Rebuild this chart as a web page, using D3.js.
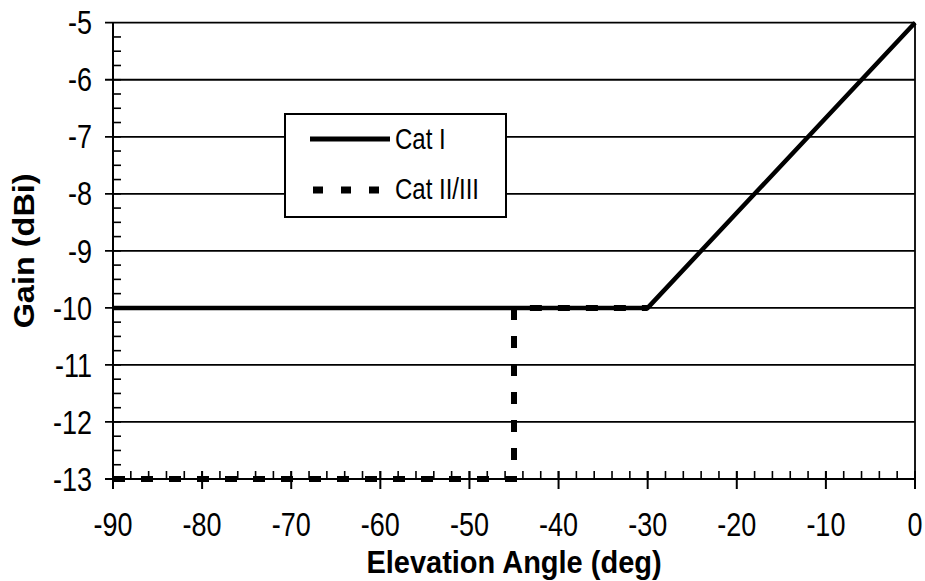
<!DOCTYPE html>
<html><head><meta charset="utf-8">
<script src="https://cdn.jsdelivr.net/npm/d3@7"></script>
<style>body{margin:0;background:#fff}text{font-family:"Liberation Sans",Arial,sans-serif;fill:#000}</style>
</head><body>
<svg id="c" width="925" height="581"></svg>
<script>
const catIAngle = [-90, -30, 0];
const catIGain = [-10, -10, -5];
const catIIAngle = [-90, -45, -45, -30];
const catIIGain = [-13, -13, -10, -10];
const xTicks = [-90, -80, -70, -60, -50, -40, -30, -20, -10, 0];
const yTicks = [-5, -6, -7, -8, -9, -10, -11, -12, -13];
const seriesNames = ["Cat I", "Cat II/III"];

const svg = d3.select("#c");
const L = 113, R = 915, T = 22.7, B = 479;
const SY = 1.2;
const x = d3.scaleLinear().domain([-90, 0]).range([L, R]);
const y = d3.scaleLinear().domain([-13, -5]).range([B, T]);

// gridlines
svg.append("g").selectAll("line").data(yTicks).join("line")
  .attr("x1", 105).attr("x2", R).attr("y1", d => y(d)).attr("y2", d => y(d))
  .attr("stroke", "#000").attr("stroke-width", 1.8);
// right border
svg.append("line").attr("x1", R).attr("x2", R).attr("y1", T).attr("y2", B + 1)
  .attr("stroke", "#000").attr("stroke-width", 1.8);

// y axis
const yMinor = d3.range(-13, -5.001, 0.25);
svg.append("g").selectAll("line").data(yMinor).join("line")
  .attr("x1", L).attr("x2", L + 8).attr("y1", d => y(d)).attr("y2", d => y(d))
  .attr("stroke", "#000").attr("stroke-width", 1.6);
svg.append("line").attr("x1", L).attr("x2", L).attr("y1", T).attr("y2", B + 9)
  .attr("stroke", "#000").attr("stroke-width", 2);
svg.append("g").selectAll("text").data(yTicks).join("text")
  .attr("transform", d => `translate(92,${y(d)}) scale(1,${SY})`)
  .attr("dy", "0.36em")
  .attr("text-anchor", "end").attr("font-size", 27).text(d => d);

// x axis
const xMinor = d3.range(-90, 0.001, 2);
svg.append("g").selectAll("line").data(xMinor).join("line")
  .attr("x1", d => x(d)).attr("x2", d => x(d)).attr("y1", B).attr("y2", B - 8)
  .attr("stroke", "#000").attr("stroke-width", 1.6);
svg.append("g").selectAll("line").data(xTicks).join("line")
  .attr("x1", d => x(d)).attr("x2", d => x(d)).attr("y1", B - 8).attr("y2", B + 10)
  .attr("stroke", "#000").attr("stroke-width", 2);
svg.append("line").attr("x1", L - 8).attr("x2", R).attr("y1", B).attr("y2", B)
  .attr("stroke", "#000").attr("stroke-width", 2);
svg.append("g").selectAll("text").data(xTicks).join("text")
  .attr("transform", d => `translate(${x(d)},536) scale(1,${SY})`)
  .attr("text-anchor", "middle").attr("font-size", 27).text(d => d);

// titles
svg.append("text").attr("transform", `translate(${(L + R) / 2},573) scale(1,1.1)`)
  .attr("text-anchor", "middle")
  .attr("font-size", 29).attr("font-weight", "bold").text("Elevation Angle (deg)");
svg.append("text").attr("transform", `translate(34,${(T + B) / 2}) rotate(-90) scale(1.12,1)`)
  .attr("text-anchor", "middle").attr("font-size", 29).attr("font-weight", "bold").text("Gain (dBi)");

// series
const line = d3.line().x(d => x(d[0])).y(d => y(d[1]));
svg.append("path").datum(d3.zip(catIIAngle, catIIGain)).attr("d", line)
  .attr("fill", "none").attr("stroke", "#000").attr("stroke-width", 6)
  .attr("stroke-dasharray", "12,16");
svg.append("path").datum(d3.zip(catIAngle, catIGain)).attr("d", line)
  .attr("fill", "none").attr("stroke", "#000").attr("stroke-width", 4.5);

// legend
const lg = svg.append("g");
lg.append("rect").attr("x", 285).attr("y", 114).attr("width", 221).attr("height", 103)
  .attr("fill", "#fff").attr("stroke", "#000").attr("stroke-width", 2);
lg.append("line").attr("x1", 310).attr("x2", 390).attr("y1", 139).attr("y2", 139)
  .attr("stroke", "#000").attr("stroke-width", 5);
lg.append("line").attr("x1", 313).attr("x2", 381).attr("y1", 190).attr("y2", 190)
  .attr("stroke", "#000").attr("stroke-width", 7).attr("stroke-dasharray", "10,18");
lg.append("text").attr("transform", `translate(395,149) scale(1,${SY})`).attr("font-size", 24).text(seriesNames[0]);
lg.append("text").attr("transform", `translate(395,199) scale(1,${SY})`).attr("font-size", 24).text(seriesNames[1]);
</script>
</body></html>
